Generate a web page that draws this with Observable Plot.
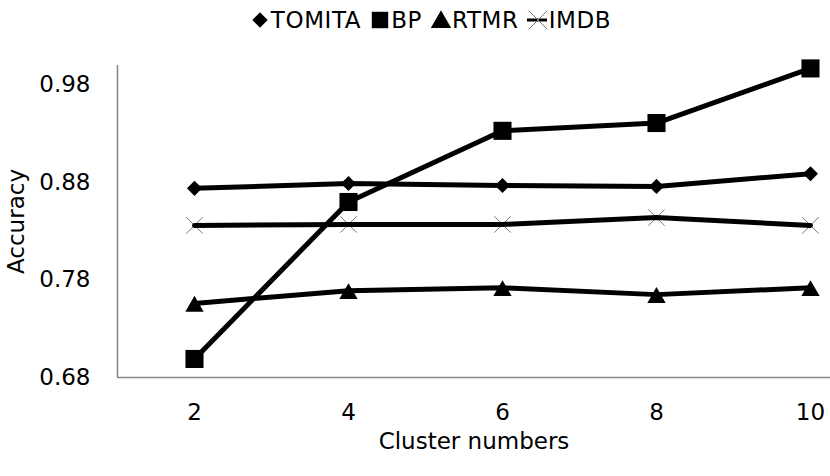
<!DOCTYPE html>
<html>
<head>
<meta charset="utf-8">
<script src="https://cdn.jsdelivr.net/npm/d3@7"></script>
<script src="https://cdn.jsdelivr.net/npm/@observablehq/plot@0.6"></script>
<style>
  html, body { margin: 0; padding: 0; background: #fff; }
  #wrap { width: 830px; height: 476px; position: relative; overflow: hidden; }
  #legend { height: 40px; display: flex; align-items: center; justify-content: center;
            font-family: "DejaVu Sans", sans-serif; font-size: 23px; color: #000; letter-spacing: 0.6px; padding-left: 30px; box-sizing: border-box; }
  .item { display: flex; align-items: center; margin: 0 4px; }
  .item svg { display: block; margin-right: 0px; }
</style>
</head>
<body>
<div id="wrap">
  <div id="legend"></div>
  <div id="chart"></div>
</div>
<script>
const clusters = [2, 4, 6, 8, 10];
const seriesNames = ["TOMITA", "BP", "RTMR", "IMDB"];
const tomita = [0.874, 0.879, 0.877, 0.876, 0.889];
const bp     = [0.699, 0.860, 0.933, 0.941, 0.997];
const rtmr   = [0.756, 0.769, 0.772, 0.765, 0.772];
const imdb   = [0.836, 0.837, 0.837, 0.844, 0.836];
const yTicks = [0.68, 0.78, 0.88, 0.98];

const valuesBySeries = {TOMITA: tomita, BP: bp, RTMR: rtmr, IMDB: imdb};
const data = seriesNames.flatMap(s => clusters.map((c, i) => ({series: s, cluster: c, value: valuesBySeries[s][i]})));
const of = s => data.filter(d => d.series === s);

// Legend
const legendSym = {
  TOMITA: {type: d3.symbolDiamond2, size: 150, fill: "#000", stroke: "none"},
  BP: {type: d3.symbolSquare, size: 270, fill: "#000", stroke: "none"},
  RTMR: {type: d3.symbolTriangle, size: 180, fill: "#000", stroke: "none"},
  IMDB: {type: d3.symbolTimes, size: 230, fill: "none", stroke: "#777"}
};
const legend = d3.select("#legend");
for (const s of seriesNames) {
  const item = legend.append("div").attr("class", "item");
  const svg = item.append("svg").attr("width", 22).attr("height", 24);
  if (s === "IMDB") {
    svg.append("line").attr("x1", 0).attr("x2", 20).attr("y1", 12).attr("y2", 12).attr("stroke", "#000").attr("stroke-width", 3);
  }
  const m = legendSym[s];
  svg.append("path").attr("transform", "translate(11,12)" + (s === "RTMR" ? " translate(0,2)" : ""))
    .attr("d", d3.symbol(m.type, m.size)())
    .attr("fill", m.fill).attr("stroke", m.stroke).attr("stroke-width", 1);
  item.append("span").text(s);
}

const chart = Plot.plot({
  width: 830,
  height: 436,
  marginLeft: 117,
  marginRight: 0,
  marginTop: 25,
  marginBottom: 99,
  x: {domain: [1, 10.26]},
  y: {domain: [0.68, 1.0]},
  style: {fontFamily: "DejaVu Sans, sans-serif", fontSize: "22px", color: "#000", background: "#fff", overflow: "visible"},
  marks: [
    Plot.axisX(clusters, {tickSize: 0, tickPadding: 26, tickFormat: d => String(d), label: "Cluster numbers", labelAnchor: "center", labelArrow: "none", labelOffset: 71, fontSize: 23}),
    Plot.axisY(yTicks, {tickSize: 0, tickPadding: 27, tickFormat: d3.format(".2f"), label: "Accuracy", labelAnchor: "center", labelArrow: "none", labelOffset: 110, fontSize: 23}),
    Plot.ruleX([1], {stroke: "#868686", strokeWidth: 1.5}),
    Plot.ruleY([0.68], {stroke: "#868686", strokeWidth: 1.5}),
    Plot.dot(of("IMDB"), {x: "cluster", y: "value", symbol: "times", r: 7.5, stroke: "#777", strokeWidth: 1}),
    Plot.line(data, {x: "cluster", y: "value", z: "series", stroke: "#000", strokeWidth: 5}),
    Plot.dot(of("TOMITA"), {x: "cluster", y: "value", symbol: "diamond2", r: 6.8, fill: "#000"}),
    Plot.dot(of("BP"), {x: "cluster", y: "value", symbol: "square", r: 10.2, fill: "#000"}),
    Plot.dot(of("RTMR"), {x: "cluster", y: "value", symbol: "triangle", r: 6.8, fill: "#000", dy: 3})
  ]
});
document.getElementById("chart").appendChild(chart);
</script>
</body>
</html>
